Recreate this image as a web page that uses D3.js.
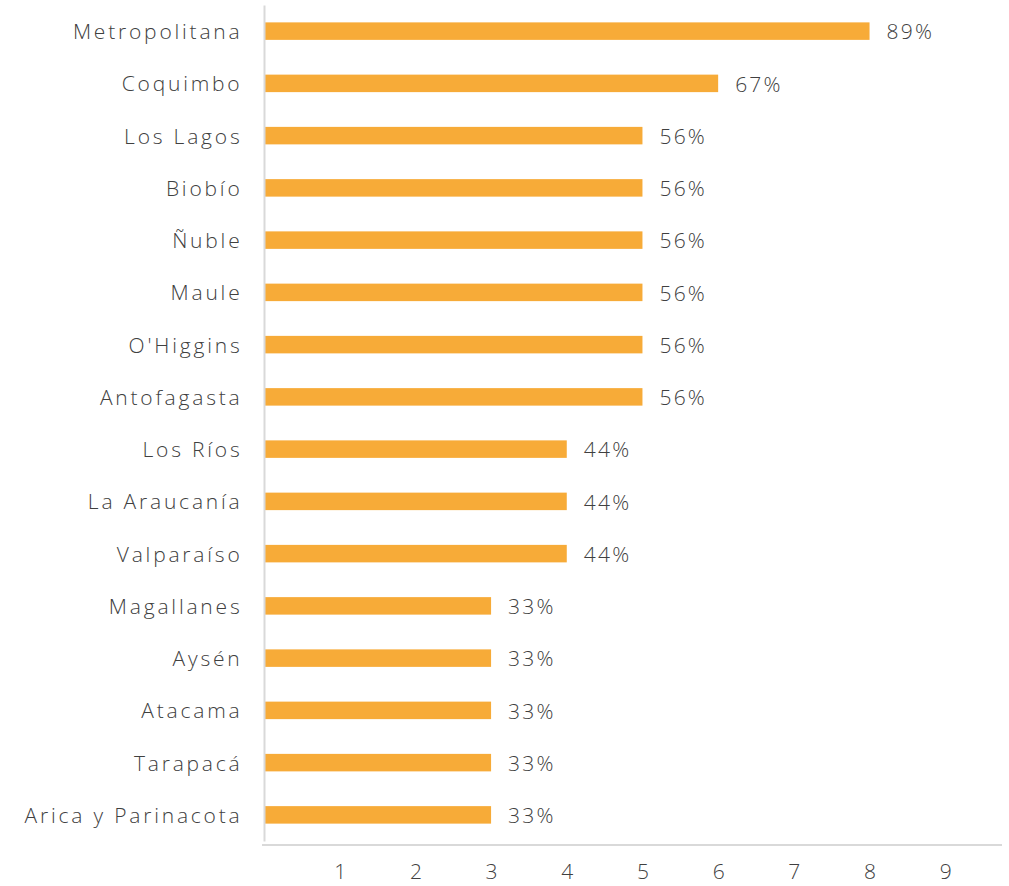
<!DOCTYPE html>
<html>
<head>
<meta charset="utf-8">
<script src="https://cdn.jsdelivr.net/npm/d3@7"></script>
<style>
  body { margin: 0; background: #fff; }
  svg text { font-family: "Open Sans", sans-serif; font-weight: 300; fill: #404040; }
</style>
</head>
<body>
<script>
// regions and how many out of 9 (label shows share)
var regions = ["Metropolitana", "Coquimbo", "Los Lagos", "Biobío", "Ñuble", "Maule",
  "O'Higgins", "Antofagasta", "Los Ríos", "La Araucanía", "Valparaíso",
  "Magallanes", "Aysén", "Atacama", "Tarapacá", "Arica y Parinacota"];
var counts = [8, 6, 5, 5, 5, 5, 5, 5, 4, 4, 4, 3, 3, 3, 3, 3];
var shares = ["89%", "67%", "56%", "56%", "56%", "56%", "56%", "56%",
  "44%", "44%", "44%", "33%", "33%", "33%", "33%", "33%"];
var xTicks = [1, 2, 3, 4, 5, 6, 7, 8, 9];

var w = 1009, h = 886;
var x0 = 264;

var svg = d3.select("body").append("svg")
  .attr("width", w)
  .attr("height", h);

var x = d3.scaleLinear()
  .domain([0, 9.75])
  .range([x0, 1002]);

var y = d3.scaleBand()
  .domain(regions)
  .range([5, 841]);

var barH = 17.5;

// bars
svg.selectAll("rect.bar")
  .data(regions)
  .enter()
  .append("rect")
  .attr("class", "bar")
  .attr("x", x(0))
  .attr("y", function(d) { return y(d) + y.bandwidth() / 2 - barH / 2; })
  .attr("width", function(d, i) { return x(counts[i]) - x(0); })
  .attr("height", barH)
  .attr("fill", "#F7AB38");

// value labels
svg.selectAll("text.val")
  .data(regions)
  .enter()
  .append("text")
  .attr("class", "val")
  .attr("x", function(d, i) { return x(counts[i]) + 17; })
  .attr("y", function(d) { return y(d) + y.bandwidth() / 2 + 1; })
  .attr("dy", "0.35em")
  .style("font-size", "21px")
  .style("letter-spacing", "2.2px")
  .text(function(d, i) { return shares[i]; });

// left axis
var yAxis = svg.append("g")
  .attr("transform", "translate(" + x0 + ",0)")
  .call(d3.axisLeft(y).tickSize(0).tickPadding(21.5));
yAxis.select(".domain").attr("stroke", "#d9d9d9").attr("stroke-width", 2);
yAxis.selectAll("text")
  .attr("dy", "0.38em")
  .style("font-size", "21px")
  .style("letter-spacing", "2.8px")
  .style("fill", "#404040");

// bottom axis
var xAxis = svg.append("g")
  .attr("transform", "translate(0,845)")
  .call(d3.axisBottom(x).tickValues(xTicks).tickSize(0).tickPadding(19));
xAxis.select(".domain").attr("stroke", "#d9d9d9").attr("stroke-width", 2)
  .attr("d", "M262,0H1002");
xAxis.selectAll("text")
  .style("font-size", "21px")
  .style("fill", "#404040");
</script>
</body>
</html>
